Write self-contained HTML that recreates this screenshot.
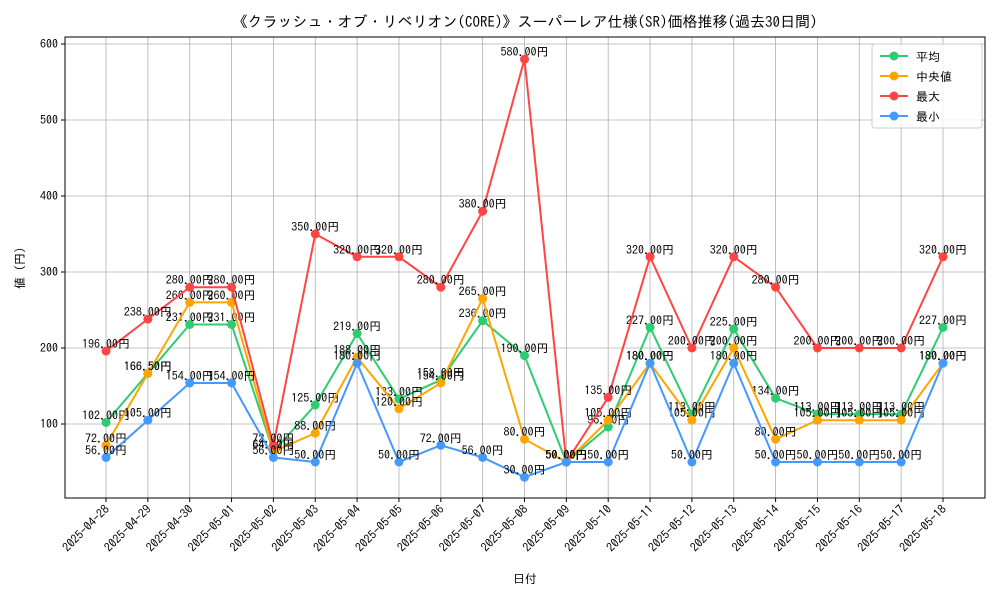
<!DOCTYPE html>
<html><head><meta charset="utf-8"><style>
body{margin:0;background:#fff;}
svg{display:block;font-family:"IPAGothic","Liberation Sans","Noto Sans CJK JP",sans-serif;}
</style></head><body>
<svg id="chart" width="1000" height="600">
<text x="525" y="27" text-anchor="middle" font-size="15">《クラッシュ・オブ・リベリオン(CORE)》スーパーレア仕様(SR)価格推移(過去30日間)</text>
<g id="grid"></g><g id="axes"></g><g id="series"></g>
<text x="525" y="583" text-anchor="middle" font-size="12">日付</text>
<text x="24" y="268" text-anchor="middle" font-size="12" transform="rotate(-90 24 268)">値 (円)</text>
<g id="legend"></g>
</svg>
<script>
const dates=["2025-04-28","2025-04-29","2025-04-30","2025-05-01","2025-05-02","2025-05-03","2025-05-04","2025-05-05","2025-05-06","2025-05-07","2025-05-08","2025-05-09","2025-05-10","2025-05-11","2025-05-12","2025-05-13","2025-05-14","2025-05-15","2025-05-16","2025-05-17","2025-05-18"];
const avgVals=[102,166.5,231,231,64,125,219,133,158,236,190,50,96,227,113,225,134,113,113,113,227];
const medVals=[72,166.5,260,260,64,88,188,120,154,265,80,50,105,180,105,200,80,105,105,105,180];
const maxVals=[196,238,280,280,72,350,320,320,280,380,580,50,135,320,200,320,280,200,200,200,320];
const minVals=[56,105,154,154,56,50,180,50,72,56,30,50,50,180,50,180,50,50,50,50,180];
const yTicks=[100,200,300,400,500,600];
const seriesNames=["平均","中央値","最大","最小"];
const NS="http://www.w3.org/2000/svg";
const L=65,R=985,T=37,B=498;
const xs=i=>106+i*(943-106)/(dates.length-1);
const ys=v=>424-(v-100)*0.76;
function mk(tag,attrs,parent){const e=document.createElementNS(NS,tag);for(const k in attrs)e.setAttribute(k,attrs[k]);parent.appendChild(e);return e;}
const grid=document.getElementById('grid'),axes=document.getElementById('axes'),ser=document.getElementById('series'),leg=document.getElementById('legend');
dates.forEach((d,i)=>{
 const g=mk('line',{x1:xs(i),x2:xs(i),y1:T,y2:B,stroke:'#b0b0b0','stroke-width':0.8},grid);
 
 
 mk('line',{x1:xs(i),x2:xs(i),y1:B,y2:B+4,stroke:'#000'},axes);
 const t=mk('text',{x:xs(i)+4,y:B+12,'font-size':12,'text-anchor':'end',transform:`rotate(-45 ${xs(i)+4} ${B+12})`},axes);
 t.textContent=d;
 
 
});
yTicks.forEach(v=>{
 const g=mk('line',{x1:L,x2:R,y1:ys(v),y2:ys(v),stroke:'#b0b0b0','stroke-width':0.8},grid);
 
 
 mk('line',{x1:L-4,x2:L,y1:ys(v),y2:ys(v),stroke:'#000'},axes);
 const t=mk('text',{x:L-7,y:ys(v)+4,'font-size':12,'text-anchor':'end'},axes);
 t.textContent=v;
 
 
});
const frame=mk('rect',{x:L,y:T,width:R-L,height:B-T,fill:'none',stroke:'#000','stroke-width':1},axes);


const all=[[avgVals,'#2ecc71','avg'],[medVals,'#ffa500','median'],[maxVals,'#ff4444','max'],[minVals,'#4499ff','min']];
all.forEach(([vals,col,nm])=>{
 const g=mk('g',{},ser);
 
 
 const p=mk('polyline',{points:vals.map((v,i)=>xs(i)+','+ys(v)).join(' '),fill:'none',stroke:col,'stroke-width':2},g);
 
 
 vals.forEach((v,i)=>{
  const c=mk('circle',{cx:xs(i),cy:ys(v),r:4.5,fill:col},g);
  
  
  const t=mk('text',{x:xs(i),y:ys(v)-3,'font-size':12,'text-anchor':'middle'},g);
  t.textContent=v.toFixed(2)+'円';
  
  
 });
});
const box=mk('rect',{x:872,y:44,width:110,height:84,fill:'#fff','fill-opacity':0.8,stroke:'#ccc',rx:3},leg);


all.forEach(([v,col,nm],k)=>{
 const y=56+k*20;
 const g=mk('g',{},leg);
 
 
 mk('line',{x1:880,x2:908,y1:y,y2:y,stroke:col,'stroke-width':2},g);
 mk('circle',{cx:894,cy:y,r:4.5,fill:col},g);
 const t=mk('text',{x:916,y:y+5,'font-size':12},g);
 t.textContent=(k==1?' ':'')+seriesNames[k];
});
</script>
</body></html>
